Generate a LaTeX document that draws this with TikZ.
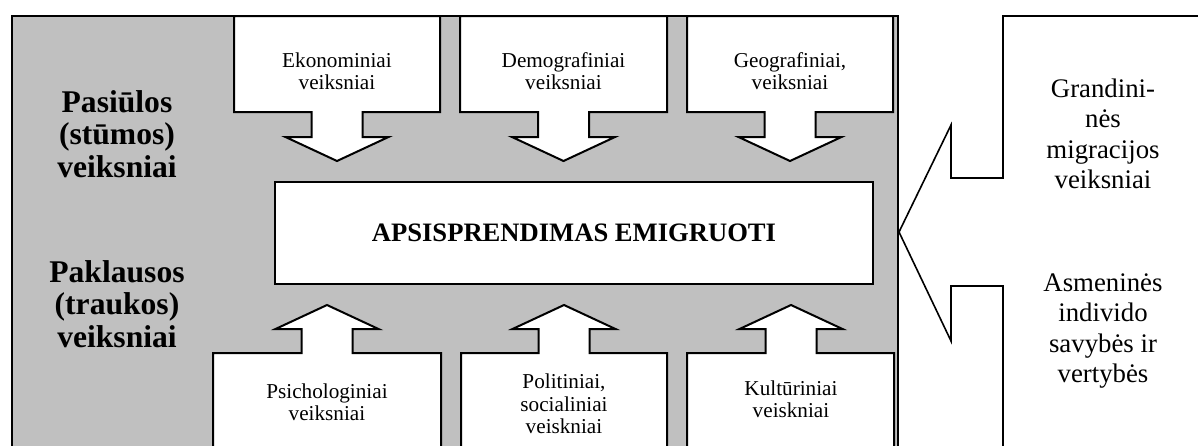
\documentclass[tikz,border=0pt]{standalone}
\usepackage{fontspec}
\setmainfont{Liberation Serif}
\definecolor{panelgray}{RGB}{192,192,192}
\tikzset{
    factor/.style={align=center,font=\fontsize{10.6}{11.2}\selectfont},
    side/.style={align=center,font=\fontsize{15.8}{16.4}\selectfont\bfseries},
    extra/.style={align=center,font=\fontsize{13.4}{15.2}\selectfont}
}
\begin{document}
\begin{tikzpicture}[x=0.5pt,y=-0.5pt,line width=1pt]
        \useasboundingbox (0,0) rectangle (1198,445);
        \clip (0,0) rectangle (1198,445);
        \draw[fill=panelgray](12,16)rectangle(898,470);
        % push factors, arrows down
        \foreach \l/\r/\c/\n/\t in {
        234/440/337/econ/{Ekonominiai\\veiksniai},
        460/667/563.5/demo/{Demografiniai\\veiksniai},
        687/893/790/geo/{Geografiniai,\\veiksniai}}{
            \draw[fill=white](\l,16)--(\r,16)--(\r,112)--(\c+25.5,112)--(\c+25.5,137)--(\c+51.5,137)
                --(\c,161)--(\c-51.5,137)--(\c-25.5,137)--(\c-25.5,112)--(\l,112)--cycle;
            \node[factor](\n) at (\c,71){\t};
        }
        % pull factors, arrows up
        \foreach \l/\r/\c/\n/\t/\y in {
        213/441/327/psych/{Psichologiniai\\veiksniai}/402,
        461/667/564/polit/{Politiniai,\\socialiniai\\veiskniai}/404,
        687/894/791/cult/{Kultūriniai\\veiskniai}/399}{
            \draw[fill=white](\l,470)--(\l,353)--(\c-25.5,353)--(\c-25.5,329)--(\c-51.5,329)--(\c,305)
                --(\c+51.5,329)--(\c+25.5,329)--(\c+25.5,353)--(\r,353)--(\r,470)--cycle;
            \node[factor](\n) at (\c,\y){\t};
        }
        \node[draw,fill=white,minimum width=299pt,minimum height=51pt,
            font=\fontsize{13.3}{15}\selectfont\bfseries](decision) at (574,233){APSISPRENDIMAS EMIGRUOTI};
        \node[side](push) at (117,134){Pasiūlos\\(stūmos)\\veiksniai};
        \node[side](pull) at (117,304){Paklausos\\(traukos)\\veiksniai};
        % side callout pointing at the panel
        \draw[fill=white,line width=0.8pt](1210,16)--(1003,16)--(1003,178)--(951,178)--(951,125)--(899,232)
            --(951,341)--(951,286)--(1003,286)--(1003,470)--(1210,470)--cycle;
        \node[extra](chain) at (1103,134){Grandini-\\nės\\migracijos\\veiksniai};
        \node[extra](personal) at (1103,331){Asmeninės\\individo\\savybės ir\\vertybės};
    \end{tikzpicture}
\end{document}
